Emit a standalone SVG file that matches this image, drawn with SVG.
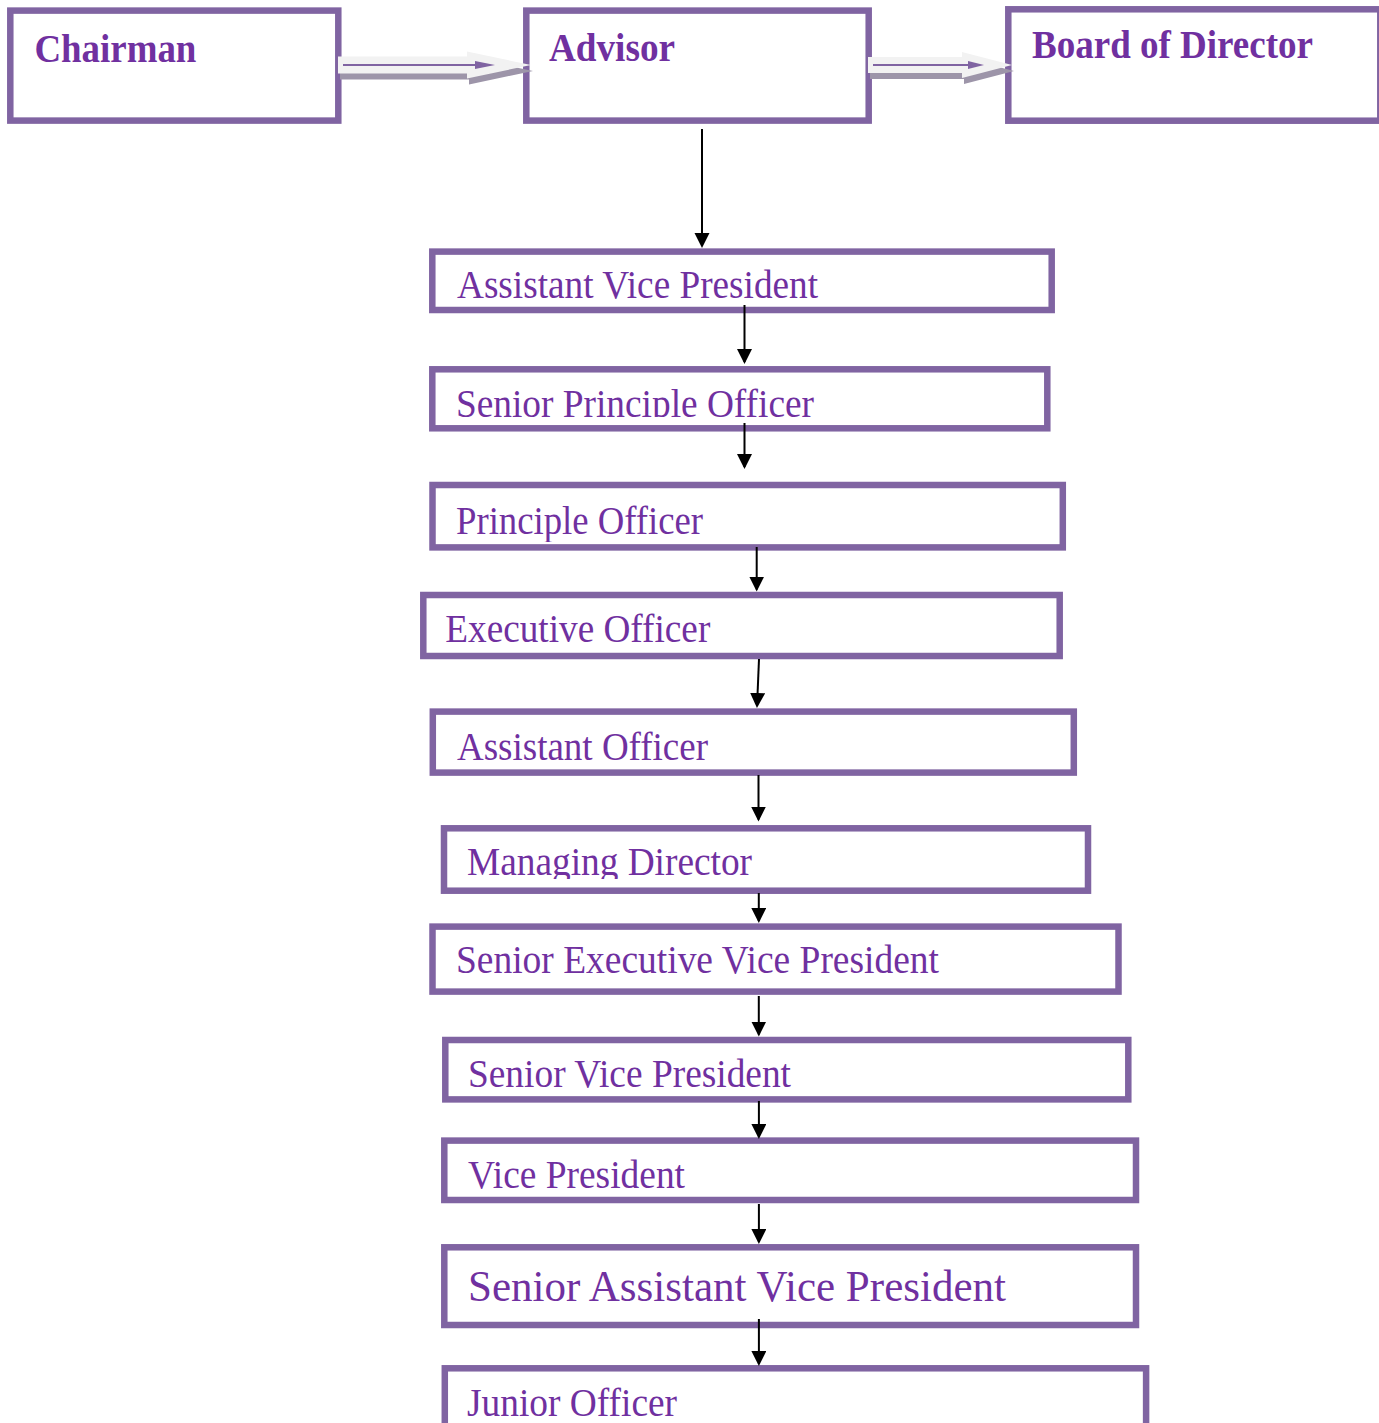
<svg xmlns="http://www.w3.org/2000/svg" width="1379" height="1423" viewBox="0 0 1379 1423">
  <style>
    .box { fill: #ffffff; stroke: #8064A2; stroke-width: 6.5; }
    .title { font-family: "Liberation Serif", "Times New Roman", serif; font-weight: bold; font-size: 40px; fill: #7030A0; }
    .label { font-family: "Liberation Serif", "Times New Roman", serif; font-size: 39.5px; fill: #7030A0; }
    .big { font-size: 44px; }
    .link { fill: none; stroke: #000000; stroke-width: 2; marker-end: url(#head); }
    .block { fill: #F2F2F2; }
    .block-shadow { fill: #9D95A9; }
    .thin { fill: none; stroke: #8064A2; stroke-width: 2; }
    .thin-head { fill: #8064A2; }
  </style>
  <defs>
    <marker id="head" markerUnits="userSpaceOnUse" markerWidth="16" markerHeight="16" refX="13" refY="7.5" orient="auto">
      <path d="M0,0 L15,7.5 L0,15 Z" fill="#000000"/>
    </marker>
    <clipPath id="clip-spo"><rect x="430" y="360" width="630" height="57"/></clipPath>
    <clipPath id="clip-po"><rect x="430" y="480" width="640" height="62"/></clipPath>
    <clipPath id="clip-md"><rect x="440" y="820" width="660" height="59"/></clipPath>
  </defs>

  <!-- top row -->
  <g id="chairman">
    <rect class="box" x="10.3" y="10.6" width="328" height="110"/>
    <text class="title" x="34.4" y="61.5" textLength="162" lengthAdjust="spacingAndGlyphs">Chairman</text>
  </g>
  <g id="advisor">
    <rect class="box" x="526.3" y="10.6" width="342.4" height="110"/>
    <text class="title" x="549" y="60.5" textLength="126" lengthAdjust="spacingAndGlyphs">Advisor</text>
  </g>
  <g id="board">
    <rect class="box" x="1008.3" y="9.3" width="372" height="111.4"/>
    <text class="title" x="1032" y="57.5" textLength="281" lengthAdjust="spacingAndGlyphs">Board of Director</text>
  </g>

  <!-- ranks -->
  <g id="assistant-vice-president">
    <rect class="box" x="432.3" y="251.6" width="619.4" height="58.4"/>
    <text class="label" x="457" y="298" textLength="361" lengthAdjust="spacingAndGlyphs">Assistant Vice President</text>
  </g>
  <g id="senior-principle-officer">
    <rect class="box" x="432.3" y="369.3" width="615" height="59"/>
    <text class="label" x="456" y="417" textLength="358" lengthAdjust="spacingAndGlyphs" clip-path="url(#clip-spo)">Senior Principle Officer</text>
  </g>
  <g id="principle-officer">
    <rect class="box" x="432.5" y="485" width="630.3" height="62.4"/>
    <text class="label" x="456" y="533.5" textLength="247" lengthAdjust="spacingAndGlyphs" clip-path="url(#clip-po)">Principle Officer</text>
  </g>
  <g id="executive-officer">
    <rect class="box" x="423.3" y="595" width="636.4" height="61"/>
    <text class="label" x="445.3" y="641.5" textLength="265" lengthAdjust="spacingAndGlyphs">Executive Officer</text>
  </g>
  <g id="assistant-officer">
    <rect class="box" x="432.8" y="711.6" width="641" height="61"/>
    <text class="label" x="457" y="759.5" textLength="251" lengthAdjust="spacingAndGlyphs">Assistant Officer</text>
  </g>
  <g id="managing-director">
    <rect class="box" x="444" y="828.3" width="644" height="62.4"/>
    <text class="label" x="467" y="874.5" textLength="285" lengthAdjust="spacingAndGlyphs" clip-path="url(#clip-md)">Managing Director</text>
  </g>
  <g id="senior-executive-vice-president">
    <rect class="box" x="432.5" y="926.6" width="686" height="65"/>
    <text class="label" x="456" y="973" textLength="483" lengthAdjust="spacingAndGlyphs">Senior Executive Vice President</text>
  </g>
  <g id="senior-vice-president">
    <rect class="box" x="445.3" y="1040" width="683" height="59.4"/>
    <text class="label" x="468" y="1087" textLength="323" lengthAdjust="spacingAndGlyphs">Senior Vice President</text>
  </g>
  <g id="vice-president">
    <rect class="box" x="444.3" y="1140.6" width="691.7" height="59.4"/>
    <text class="label" x="468" y="1188" textLength="217" lengthAdjust="spacingAndGlyphs">Vice President</text>
  </g>
  <g id="senior-assistant-vice-president">
    <rect class="box" x="444.3" y="1247.3" width="691.7" height="77.7"/>
    <text class="label big" x="468" y="1300.5" textLength="538" lengthAdjust="spacingAndGlyphs">Senior Assistant Vice President</text>
  </g>
  <g id="junior-officer">
    <rect class="box" x="444.8" y="1368.3" width="701.3" height="80"/>
    <text class="label" x="467" y="1415.5" textLength="210" lengthAdjust="spacingAndGlyphs">Junior Officer</text>
  </g>

  <g id="connectors">
    <!-- block arrows along the top row -->
    <path class="block-shadow" d="M340,62.5 H469 V57.5 L533,71 L469,84.5 V79.5 H340 Z"/>
    <path class="block" d="M338,56.5 H467 V51.5 L531,65 L467,78.5 V73.5 H338 Z"/>
    <path class="thin" d="M343,65 H478"/>
    <path class="thin-head" d="M475,61 L495,65 L475,69 Z"/>

    <path class="block-shadow" d="M870,63 H964 V58 L1014,71 L964,84 V79 H870 Z"/>
    <path class="block" d="M868,57 H962 V52 L1012,65 L962,78 V73 H868 Z"/>
    <path class="thin" d="M873,65 H972"/>
    <path class="thin-head" d="M968,61 L984,65 L968,69 Z"/>

    <!-- chain of command -->
    <path class="link" d="M702,129 V246"/>
    <path class="link" d="M744.5,305 V362"/>
    <path class="link" d="M744.5,423 V467"/>
    <path class="link" d="M756.7,547 V589.5"/>
    <path class="link" d="M759,659 L757.04,706"/>
    <path class="link" d="M758.5,775 V819.5"/>
    <path class="link" d="M758.8,893 V921"/>
    <path class="link" d="M758.8,996 V1034.5"/>
    <path class="link" d="M758.9,1101 V1137"/>
    <path class="link" d="M758.9,1204 V1242"/>
    <path class="link" d="M758.9,1319 V1364"/>
  </g>
</svg>
